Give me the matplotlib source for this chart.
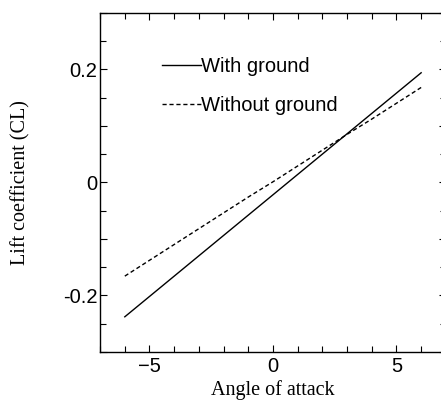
import numpy as np
import matplotlib.pyplot as plt
from matplotlib.ticker import MultipleLocator, FixedLocator, FuncFormatter

angle = [-6, -5, -4, -3, -2, -1, 0, 1, 2, 3, 4, 5, 6]
cl_ground = [-0.238, -0.202, -0.166, -0.130, -0.094, -0.058, -0.022,
             0.014, 0.050, 0.086, 0.122, 0.158, 0.194]
cl_free = [-0.166, -0.138, -0.110, -0.082, -0.054, -0.026, 0.001,
           0.029, 0.057, 0.085, 0.112, 0.140, 0.168]

fig = plt.figure(figsize=(4.41, 4.03), dpi=100)
ax = fig.add_axes([0.227, 0.127, 0.784, 0.841])

ax.plot(angle, cl_ground, color='black', lw=1.0, label='With ground')
ax.plot(angle, cl_free, color='black', lw=1.0, ls=(0, (3, 2)), label='Without ground')

ax.set_xlim(-7, 7)
ax.set_ylim(-0.3, 0.3)

ax.xaxis.set_major_locator(FixedLocator([-5, 0, 5]))
ax.xaxis.set_minor_locator(MultipleLocator(1))
ax.set_xticklabels(['\u22125', '0', '5'])


def ylab(v, pos):
    # only every second major tick carries a label
    if abs(v) < 1e-9:
        return '0'
    if abs(abs(v) - 0.2) < 1e-9:
        return '%.1f' % v
    return ''


ax.yaxis.set_major_locator(MultipleLocator(0.1))
ax.yaxis.set_minor_locator(MultipleLocator(0.05))
ax.yaxis.set_major_formatter(FuncFormatter(ylab))

ax.tick_params(which='both', direction='in', top=True, right=True, width=0.8)
ax.tick_params(which='major', length=5, labelsize=14.5)
ax.tick_params(which='minor', length=4)
ax.tick_params(axis='x', which='major', pad=4)
ax.tick_params(axis='y', which='major', pad=2)
for lab in ax.get_xticklabels() + ax.get_yticklabels():
    lab.set_family('Liberation Sans')

ax.set_xlabel('Angle of attack', family='Liberation Serif', fontsize=14.5)
ax.set_ylabel('Lift coefficient (CL)', family='Liberation Serif', fontsize=14.5)
ax.xaxis.set_label_coords(0.5, -0.083)
ax.yaxis.set_label_coords(-0.202, 0.5)

leg = ax.legend(loc='upper left', bbox_to_anchor=(0.128, 0.924), frameon=False,
                handlelength=1.9, handletextpad=0.0, labelspacing=1.0,
                prop={'family': 'Liberation Sans', 'size': 14.5})

for s in ax.spines.values():
    s.set_linewidth(1.0)

fig.savefig('out.png', dpi=100)
